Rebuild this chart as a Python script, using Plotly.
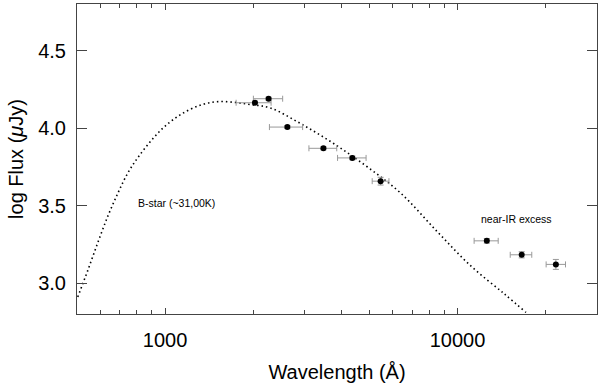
import plotly.graph_objects as go
import math

# photometry points
wavelength = [2030, 2260, 2620, 3480, 4370, 5460, 12600, 16580, 21700]
wl_err_lo = [280, 255, 345, 375, 480, 350, 1200, 1430, 1600]
wl_err_hi = [275, 265, 335, 385, 500, 370, 1180, 1370, 1710]
log_flux = [4.163, 4.189, 4.006, 3.869, 3.807, 3.657, 3.272, 3.182, 3.120]
flux_err = [0.01, 0.01, 0.01, 0.01, 0.012, 0.025, 0.015, 0.02, 0.032]

# B-star model curve
model_wl = [503, 544, 589, 637, 690, 746, 808, 898, 998, 1138, 1333, 1520,
            1735, 1979, 2288, 2899, 3771, 4910, 6393, 8540, 11107, 14454, 17155]
model_flux = [2.91, 3.08, 3.26, 3.43, 3.58, 3.71, 3.81, 3.92, 4.01, 4.09, 4.15, 4.17,
              4.165, 4.15, 4.13, 4.03, 3.90, 3.75, 3.58, 3.33, 3.11, 2.93, 2.81]

x_ticks = [1000, 10000]
x_minor = [600, 700, 800, 900, 2000, 3000, 4000, 5000, 6000, 7000, 8000, 9000, 20000]
y_ticks = [3.0, 3.5, 4.0, 4.5]

font = "Liberation Sans, Arial, sans-serif"
axcol = "#444444"

fig = go.Figure()

fig.add_trace(go.Scatter(
    x=model_wl, y=model_flux, mode="lines",
    line=dict(color="black", width=1.6, dash="1.5px,3px", shape="spline"),
    showlegend=False, hoverinfo="skip"))

fig.add_trace(go.Scatter(
    x=wavelength, y=log_flux, mode="markers",
    marker=dict(color="black", size=6),
    error_x=dict(type="data", symmetric=False, array=wl_err_hi, arrayminus=wl_err_lo,
                 color="#999999", thickness=1, width=3),
    error_y=dict(type="data", array=flux_err, color="#999999", thickness=1, width=3),
    showlegend=False))

fig.update_layout(
    width=600, height=389,
    margin=dict(l=77, r=3, t=4, b=75),
    plot_bgcolor="white", paper_bgcolor="white",
    font=dict(family=font, color="black"),
    annotations=[
        dict(text="B-star (~31,00K)", x=math.log10(1094), y=3.513, xref="x", yref="y",
             showarrow=False, font=dict(size=10.5, family=font)),
        dict(text="near-IR excess", x=math.log10(15895), y=3.412, xref="x", yref="y",
             showarrow=False, font=dict(size=10.5, family=font)),
    ],
)

fig.update_xaxes(
    type="log", range=[math.log10(500), math.log10(30000)],
    tickvals=x_ticks, ticktext=[str(v) for v in x_ticks],
    ticks="inside", ticklen=6, tickcolor=axcol, tickwidth=1,
    minor=dict(tickvals=x_minor, ticks="inside", ticklen=4, tickcolor=axcol, tickwidth=1),
    showline=True, linecolor=axcol, linewidth=1, mirror="ticks",
    showgrid=False, zeroline=False, automargin=False,
    tickfont=dict(size=20), ticklabelstandoff=8,
    title=dict(text="Wavelength (Å)", font=dict(size=20), standoff=14))

fig.update_yaxes(
    range=[2.8, 4.8], tickvals=y_ticks, ticktext=["%.1f" % v for v in y_ticks],
    ticks="inside", ticklen=10, tickcolor=axcol, tickwidth=1,
    showline=True, linecolor=axcol, linewidth=1, mirror="ticks",
    showgrid=False, zeroline=False, automargin=False,
    tickfont=dict(size=20), ticklabelstandoff=6,
    title=dict(text="log Flux (<i>μ</i>Jy)", font=dict(size=20), standoff=9))

# drop the default page margin so the 600x389 figure fills the window
fig.write_html("out.html", config={"displayModeBar": False},
               post_script="document.body.style.margin='0';document.body.style.overflow='hidden';")
